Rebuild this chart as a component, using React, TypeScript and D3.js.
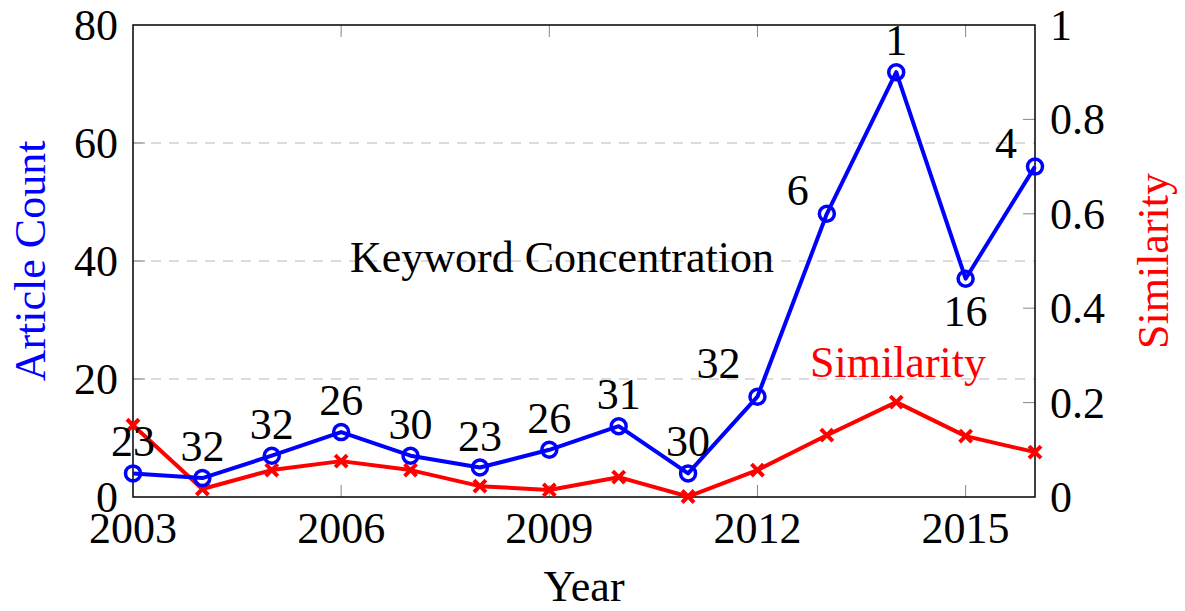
import React, { useRef, useEffect } from "react";
import * as d3 from "d3";

const years = [2003, 2004, 2005, 2006, 2007, 2008, 2009, 2010, 2011, 2012, 2013, 2014, 2015, 2016];
const articleCount = [4, 3.2, 7, 11, 7, 5, 8, 12, 4, 17, 48, 72, 37, 56];
const similarity = [0.152, 0.017, 0.057, 0.076, 0.057, 0.023, 0.015, 0.042, 0.001, 0.057, 0.131, 0.201, 0.129, 0.095];
const pointLabels = ["23", "32", "32", "26", "30", "23", "26", "31", "30", "32", "6", "1", "16", "4"];
const labelAnchors = ["above", "above", "above", "above", "above", "above", "above", "above", "above",
  "above left", "left", "above", "below", "left"];
const xTicks = [2003, 2006, 2009, 2012, 2015];
const leftTicks = [0, 20, 40, 60, 80];
const rightTicks = [0, 0.2, 0.4, 0.6, 0.8, 1];

const W = 1185;
const H = 611;
const FONT = "'Liberation Serif', 'Times New Roman', serif";

const Chart = () => {
  const ref = useRef<SVGSVGElement>(null);

  useEffect(() => {
    const svg = d3.select(ref.current);
    svg.selectAll("*").remove();

    const x = d3.scaleLinear().domain([2003, 2016]).range([133, 1035]);
    const yL = d3.scaleLinear().domain([0, 80]).range([497, 25]);
    const yR = d3.scaleLinear().domain([0, 1]).range([497, 25]);
    const [x0, x1] = x.range();
    const [yb, yt] = yL.range();

    // dashed grid
    svg.selectAll("line.grid")
      .data([20, 40, 60])
      .enter().append("line")
      .attr("x1", x0).attr("x2", x1)
      .attr("y1", d => yL(d)).attr("y2", d => yL(d))
      .attr("stroke", "#b8b8b8").attr("stroke-width", 1.2)
      .attr("stroke-dasharray", "10,8");

    // inner ticks
    const tk = 12;
    xTicks.slice(1).forEach(t => {
      svg.append("line").attr("x1", x(t)).attr("x2", x(t)).attr("y1", yb).attr("y2", yb - tk)
        .attr("stroke", "#888").attr("stroke-width", 1);
      svg.append("line").attr("x1", x(t)).attr("x2", x(t)).attr("y1", yt).attr("y2", yt + tk)
        .attr("stroke", "#888").attr("stroke-width", 1);
    });
    leftTicks.slice(1, -1).forEach(t => {
      svg.append("line").attr("x1", x0).attr("x2", x0 + tk).attr("y1", yL(t)).attr("y2", yL(t))
        .attr("stroke", "#888").attr("stroke-width", 1);
    });
    rightTicks.slice(1, -1).forEach(t => {
      svg.append("line").attr("x1", x1).attr("x2", x1 - tk).attr("y1", yR(t)).attr("y2", yR(t))
        .attr("stroke", "#888").attr("stroke-width", 1);
    });

    // frame
    svg.append("rect")
      .attr("x", x0).attr("y", yt).attr("width", x1 - x0).attr("height", yb - yt)
      .attr("fill", "none").attr("stroke", "#000").attr("stroke-width", 1.5);

    // tick labels
    svg.selectAll("text.xt").data(xTicks).enter().append("text")
      .attr("x", d => x(d)).attr("y", 543)
      .attr("text-anchor", "middle").attr("font-family", FONT).attr("font-size", 44)
      .text(d => String(d));
    svg.selectAll("text.yl").data(leftTicks).enter().append("text")
      .attr("x", 118).attr("y", d => yL(d) + 15)
      .attr("text-anchor", "end").attr("font-family", FONT).attr("font-size", 44)
      .text(d => String(d));
    svg.selectAll("text.yr").data(rightTicks).enter().append("text")
      .attr("x", 1050).attr("y", d => yR(d) + 15)
      .attr("text-anchor", "start").attr("font-family", FONT).attr("font-size", 44)
      .text(d => String(d));

    // axis titles
    svg.append("text").attr("x", 584).attr("y", 601)
      .attr("text-anchor", "middle").attr("font-family", FONT).attr("font-size", 44)
      .text("Year");
    svg.append("text").attr("transform", "translate(45,261) rotate(-90)")
      .attr("text-anchor", "middle").attr("font-family", FONT).attr("font-size", 44)
      .attr("fill", "#0000ff").text("Article Count");
    svg.append("text").attr("transform", "translate(1168,261) rotate(-90)")
      .attr("text-anchor", "middle").attr("font-family", FONT).attr("font-size", 44)
      .attr("fill", "#ff0000").text("Similarity");

    // annotations
    svg.append("text").attr("x", 562).attr("y", 272)
      .attr("text-anchor", "middle").attr("font-family", FONT).attr("font-size", 44)
      .text("Keyword Concentration");
    svg.append("text").attr("x", 898).attr("y", 377)
      .attr("text-anchor", "middle").attr("font-family", FONT).attr("font-size", 44)
      .attr("fill", "#ff0000").text("Similarity");

    // similarity line
    const redLine = d3.line<number>().x((_, i) => x(years[i])).y(d => yR(d));
    svg.append("path").datum(similarity)
      .attr("d", redLine).attr("fill", "none")
      .attr("stroke", "#ff0000").attr("stroke-width", 4).attr("stroke-linejoin", "round");
    const c = 6;
    svg.selectAll("path.cross").data(similarity).enter().append("path")
      .attr("d", (d, i) => {
        const px = x(years[i]), py = yR(d);
        return `M${px - c},${py - c}L${px + c},${py + c}M${px - c},${py + c}L${px + c},${py - c}`;
      })
      .attr("stroke", "#ff0000").attr("stroke-width", 4).attr("fill", "none");

    // article count line
    const blueLine = d3.line<number>().x((_, i) => x(years[i])).y(d => yL(d));
    svg.append("path").datum(articleCount)
      .attr("d", blueLine).attr("fill", "none")
      .attr("stroke", "#0000ff").attr("stroke-width", 4).attr("stroke-linejoin", "round");
    svg.selectAll("circle.pt").data(articleCount).enter().append("circle")
      .attr("cx", (_, i) => x(years[i])).attr("cy", d => yL(d)).attr("r", 7.5)
      .attr("fill", "none").attr("stroke", "#0000ff").attr("stroke-width", 3.5);

    // point labels
    const off: Record<string, [number, number, string]> = {
      "above": [0, -17, "middle"],
      "above left": [-17, -19, "end"],
      "left": [-18, -9, "end"],
      "below": [0, 47, "middle"],
    };
    svg.selectAll("text.pl").data(articleCount).enter().append("text")
      .attr("x", (_, i) => x(years[i]) + off[labelAnchors[i]][0])
      .attr("y", (d, i) => yL(d) + off[labelAnchors[i]][1])
      .attr("text-anchor", (_, i) => off[labelAnchors[i]][2])
      .attr("font-family", FONT).attr("font-size", 44)
      .text((_, i) => pointLabels[i]);
  }, []);

  return <svg ref={ref} width={W} height={H} style={{ position: "absolute", left: 0, top: 0, background: "#fff" }} />;
};

export default function App() {
  return <Chart />;
}
